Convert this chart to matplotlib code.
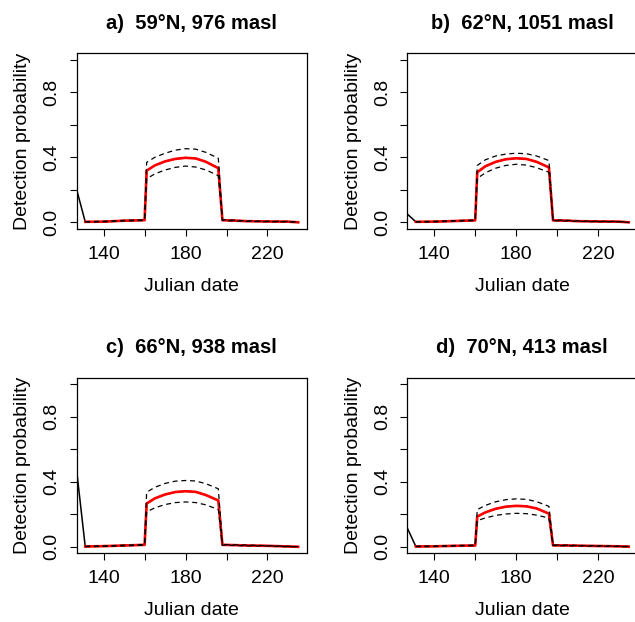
import matplotlib
matplotlib.use('Agg')
import matplotlib.pyplot as plt

plt.rcParams['font.family'] = ['Liberation Sans', 'DejaVu Sans']
plt.rcParams['font.size'] = 14

# Julian dates of the model predictions
days = [131, 140, 150, 160, 161, 165, 170, 175, 180, 185, 190, 196, 198, 205, 210, 220, 230, 235]

titles = ['a)  59°N, 976 masl', 'b)  62°N, 1051 masl', 'c)  66°N, 938 masl', 'd)  70°N, 413 masl']

# earlier estimate (black line) that runs in from the left edge
early_day = 125
early_a = 0.288
early_b = 0.072
early_c = 0.672
early_d = 0.166

# detection probability (red) with lower / upper bounds (dashed)
mean_a = [0.003, 0.004, 0.010, 0.013, 0.318, 0.350, 0.375, 0.390, 0.397, 0.393, 0.372, 0.333, 0.013, 0.010, 0.007, 0.005, 0.004, 0.000]
upper_a = [0.004, 0.006, 0.012, 0.015, 0.369, 0.400, 0.425, 0.444, 0.453, 0.450, 0.430, 0.394, 0.016, 0.012, 0.009, 0.006, 0.005, 0.001]
lower_a = [0.002, 0.003, 0.008, 0.011, 0.268, 0.298, 0.322, 0.338, 0.346, 0.340, 0.322, 0.287, 0.011, 0.008, 0.006, 0.004, 0.003, 0.000]

mean_b = [0.003, 0.004, 0.008, 0.012, 0.308, 0.345, 0.372, 0.388, 0.394, 0.390, 0.372, 0.338, 0.012, 0.010, 0.007, 0.005, 0.004, 0.000]
upper_b = [0.004, 0.006, 0.010, 0.014, 0.350, 0.385, 0.408, 0.420, 0.425, 0.422, 0.408, 0.380, 0.014, 0.012, 0.009, 0.006, 0.005, 0.001]
lower_b = [0.002, 0.003, 0.007, 0.010, 0.270, 0.305, 0.333, 0.350, 0.357, 0.352, 0.336, 0.308, 0.010, 0.008, 0.006, 0.004, 0.003, 0.000]

mean_c = [0.002, 0.004, 0.008, 0.012, 0.266, 0.298, 0.322, 0.337, 0.342, 0.338, 0.318, 0.285, 0.012, 0.010, 0.008, 0.006, 0.002, 0.000]
upper_c = [0.003, 0.005, 0.010, 0.014, 0.336, 0.366, 0.390, 0.404, 0.408, 0.405, 0.388, 0.357, 0.014, 0.012, 0.010, 0.007, 0.003, 0.001]
lower_c = [0.001, 0.003, 0.006, 0.010, 0.215, 0.240, 0.260, 0.272, 0.276, 0.272, 0.258, 0.229, 0.010, 0.008, 0.006, 0.005, 0.001, 0.000]

mean_d = [0.002, 0.003, 0.006, 0.008, 0.186, 0.212, 0.234, 0.247, 0.252, 0.249, 0.236, 0.204, 0.009, 0.008, 0.007, 0.005, 0.003, 0.001]
upper_d = [0.003, 0.004, 0.008, 0.010, 0.229, 0.255, 0.277, 0.290, 0.295, 0.292, 0.278, 0.249, 0.011, 0.010, 0.008, 0.006, 0.004, 0.002]
lower_d = [0.001, 0.002, 0.005, 0.007, 0.161, 0.178, 0.193, 0.202, 0.206, 0.204, 0.195, 0.177, 0.008, 0.007, 0.006, 0.004, 0.002, 0.000]

panels = [
    (titles[0], early_a, mean_a, upper_a, lower_a),
    (titles[1], early_b, mean_b, upper_b, lower_b),
    (titles[2], early_c, mean_c, upper_c, lower_c),
    (titles[3], early_d, mean_d, upper_d, lower_d),
]

fig = plt.figure(figsize=(6.35, 6.22), dpi=100)

# axes boxes in pixels (left, top) of a 635x622 canvas
W, H = 635, 622
box_w, box_h = 230, 175.5
corners = [(76.7, 53.3), (407.3, 53.3), (76.7, 377.8), (407.3, 377.8)]

pad_x = 0.04 * (days[-1] - days[0])

for (title, early, mean, upper, lower), (px, py) in zip(panels, corners):
    ax = fig.add_axes([px / W, 1 - (py + box_h) / H, box_w / W, box_h / H])

    # black estimate, mostly hidden under the red line
    ax.plot([early_day] + days, [early] + mean, color='black', linewidth=1.1)
    ax.plot(days, mean, color='red', linewidth=1.9)
    ax.plot(days, upper, color='black', linewidth=0.9, linestyle=(0, (4, 3)))
    ax.plot(days, lower, color='black', linewidth=0.9, linestyle=(0, (4, 3)))

    ax.set_xlim(days[0] - pad_x, days[-1] + pad_x)
    ax.set_ylim(-0.04, 1.04)

    ax.set_xticks([140, 160, 180, 200, 220])
    ax.set_xticklabels(['140', '', '180', '', '220'])
    ax.set_yticks([0.0, 0.2, 0.4, 0.6, 0.8, 1.0])
    ax.set_yticklabels(['0.0', '', '0.4', '', '0.8', ''], rotation=90, va='center')

    ax.tick_params(direction='out', length=5.2, width=0.8, labelsize=14)
    ax.tick_params(axis='x', pad=7)
    ax.tick_params(axis='y', pad=6.5)
    for s in ax.spines.values():
        s.set_linewidth(0.9)

    ax.set_title(title, fontweight='bold', fontsize=14.5, pad=17.5)
    ax.set_xlabel('Julian date', fontsize=14)
    ax.set_ylabel('Detection probability', fontsize=14)
    ax.xaxis.set_label_coords(0.5, -0.28)
    ax.yaxis.set_label_coords(-0.198, 0.5)

fig.savefig('out.png', dpi=100)
